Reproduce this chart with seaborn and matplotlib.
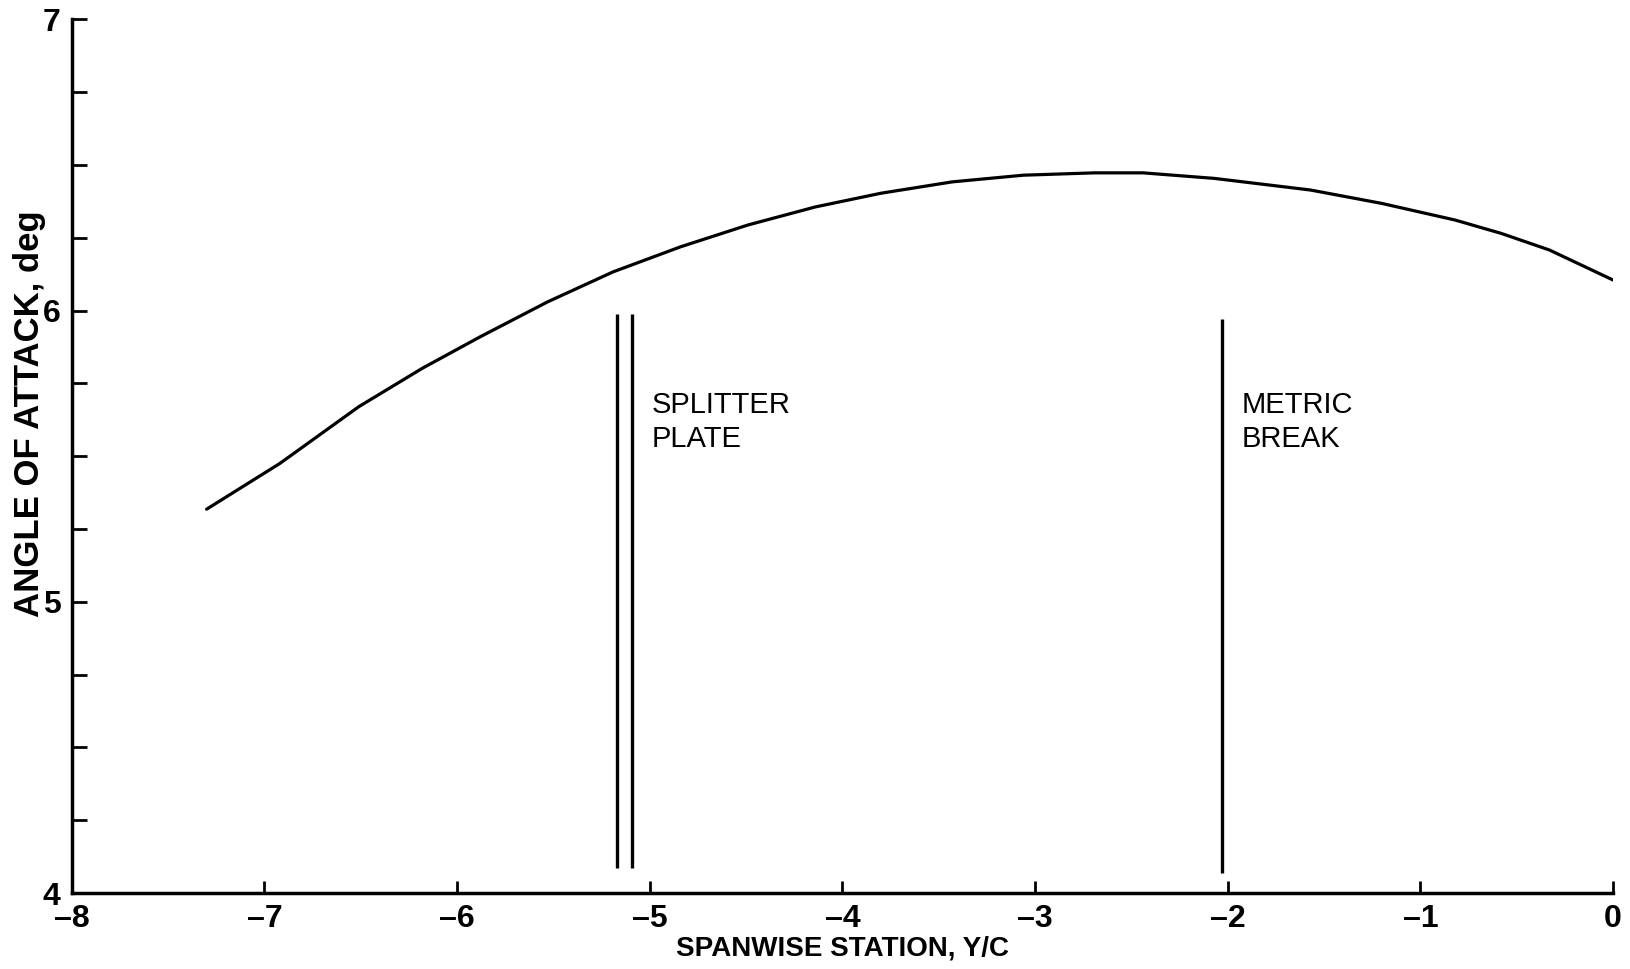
import numpy as np
import pandas as pd
import matplotlib
matplotlib.use('Agg')
import matplotlib.pyplot as plt
import seaborn as sns

# curve
station = [-7.30, -6.92, -6.51, -6.18, -5.88, -5.53, -5.19, -4.84, -4.49, -4.14, -3.80,
           -3.43, -3.06, -2.69, -2.44, -2.07, -1.57, -1.20, -0.82, -0.58, -0.33, 0.0]
alpha = [5.318, 5.475, 5.670, 5.802, 5.910, 6.030, 6.133, 6.219, 6.294, 6.356, 6.403,
         6.442, 6.465, 6.473, 6.473, 6.454, 6.414, 6.368, 6.311, 6.265, 6.208, 6.105]

splitter_x = [-5.17, -5.09]
splitter_ymin = [4.085, 4.085]
splitter_ymax = [5.99, 5.99]
metric_x = [-2.03]
metric_ymin = [4.07]
metric_ymax = [5.97]

x_ticks = [-8, -7, -6, -5, -4, -3, -2, -1, 0]
y_major = [4, 5, 6, 7]
y_minor = [4.25, 4.5, 4.75, 5.25, 5.5, 5.75, 6.25, 6.5, 6.75]

df = pd.DataFrame({'Y/C': station, 'alpha': alpha})

sns.set_theme(style='ticks')
plt.rcParams['font.family'] = ['Liberation Sans', 'DejaVu Sans']
plt.rcParams['text.color'] = 'black'
plt.rcParams['axes.labelcolor'] = 'black'

fig = plt.figure(figsize=(16.3, 9.69), dpi=100)
ax = fig.add_axes([0.044, 0.0784, 0.9456, 0.9016])

sns.lineplot(data=df, x='Y/C', y='alpha', color='black', linewidth=2.3, ax=ax)
ax.vlines(splitter_x, splitter_ymin, splitter_ymax, color='black', linewidth=2.4)
ax.vlines(metric_x, metric_ymin, metric_ymax, color='black', linewidth=2.4)

ax.text(-4.99, 5.725, 'SPLITTER\nPLATE', fontsize=21, va='top', ha='left',
        linespacing=1.3, color='black')
ax.text(-1.93, 5.725, 'METRIC\nBREAK', fontsize=21, va='top', ha='left',
        linespacing=1.3, color='black')

ax.set_xlim(-8, 0)
ax.set_ylim(4, 7)
ax.set_xticks(x_ticks, [str(t).replace('-', '\u2013') for t in x_ticks])
ax.set_yticks(y_major, [str(t) for t in y_major])
ax.set_yticks(y_minor, minor=True)
ax.tick_params(axis='both', which='both', direction='in', color='black', width=2,
               labelsize=23, labelcolor='black')
ax.tick_params(axis='x', which='major', length=9, pad=8)
ax.tick_params(axis='y', which='major', length=11, pad=8)
ax.tick_params(axis='y', which='minor', length=11)
for lab in ax.get_xticklabels() + ax.get_yticklabels():
    lab.set_fontweight('bold')

sns.despine(ax=ax)
for s in ['left', 'bottom']:
    ax.spines[s].set_linewidth(2.5)
    ax.spines[s].set_color('black')

ax.set_xlabel('SPANWISE STATION, Y/C', fontsize=20, fontweight='bold', labelpad=1, color='black')
ax.set_ylabel('ANGLE OF ATTACK, deg', fontsize=25, fontweight='bold', color='black')
ax.yaxis.set_label_coords(-0.017, 0.549)

fig.savefig('out.png', dpi=100, facecolor='white')
